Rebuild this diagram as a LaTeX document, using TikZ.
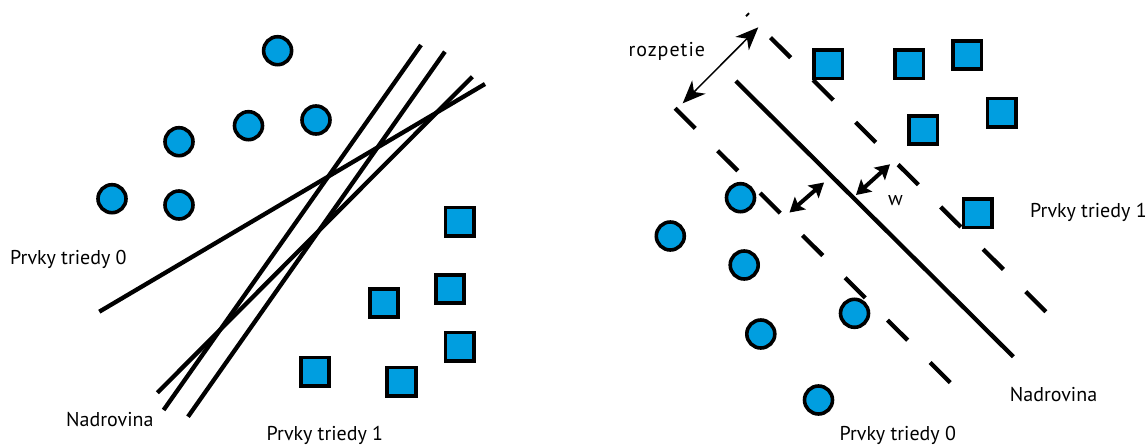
\documentclass[tikz,border=0pt]{standalone}
\usepackage{fontspec}
\setmainfont{PT Sans}
\usetikzlibrary{calc}
\definecolor{dotblue}{RGB}{0,158,224}
% #1 tip, #2 other end, #3 head length, #4 half width, #5 distance of inset point
\newcommand\myArrowHead[5]{%
  \coordinate (hdbase) at ($(#1)!#3!(#2)$);
  \fill (#1) -- ($(hdbase)!#4!90:(#1)$) -- ($(#1)!#5!(#2)$) -- ($(hdbase)!#4!-90:(#1)$) -- cycle;}
\begin{document}
\begin{tikzpicture}[x=1pt,y=-1pt,
  pt0/.style={circle,draw,line width=3.6pt,fill=dotblue,minimum size=28pt,inner sep=0pt},
  pt1/.style={rectangle,draw,line width=3.6pt,fill=dotblue,minimum size=28.5pt,inner sep=0pt},
  hyper/.style={line width=4.3pt},
  marginline/.style={line width=4.3pt,dash pattern=on 28.5pt off 31.5pt},
  lbl/.style={anchor=base west,inner sep=0pt,font=\fontsize{20pt}{22pt}\selectfont},
  thinshaft/.style={line width=1.5pt},
  wshaft/.style={line width=4pt}]
\useasboundingbox (0,0) rectangle (1148,447);

% ---------- left panel ----------
\coordinate (la1) at (99.3,311.7);  \coordinate (la2) at (485,84);
\coordinate (lb1) at (421,45);      \coordinate (lb2) at (163.6,410);
\coordinate (lc1) at (444.9,51.7);  \coordinate (lc2) at (188,416.7);
\coordinate (ld1) at (472.4,76.7);  \coordinate (ld2) at (157.4,392.7);
\draw[hyper] (la1) -- (la2);
\draw[hyper] (lb1) -- (lb2);
\draw[hyper] (lc1) -- (lc2);
\draw[hyper] (ld1) -- (ld2);

\node[pt0] (lc01) at (277.6,50.7) {};
\node[pt0] (lc02) at (179,141.7) {};
\node[pt0] (lc03) at (248.5,125.7) {};
\node[pt0] (lc04) at (316,120) {};
\node[pt0] (lc05) at (112,198.7) {};
\node[pt0] (lc06) at (179,205) {};

\node[pt1] (ls01) at (459.6,221.7) {};
\node[pt1] (ls02) at (450,289) {};
\node[pt1] (ls03) at (384,303) {};
\node[pt1] (ls04) at (459.6,346.7) {};
\node[pt1] (ls05) at (315,371.7) {};
\node[pt1] (ls06) at (401.5,381.7) {};

\node[lbl] (lt0) at (10,264.3) {Prvky triedy 0};
\node[lbl] (ltn) at (66,426.5) {Nadrovina};
\node[lbl] (lt1) at (266.5,440.5) {Prvky triedy 1};

% ---------- right panel ----------
\coordinate (ru1) at (746.8,14);    \coordinate (ru2) at (1047.5,313.3);
\coordinate (rs1) at (735.8,81);    \coordinate (rs2) at (1013.3,356.7);
\coordinate (rl1) at (675.1,108.3); \coordinate (rl2) at (951.9,384.3);
\draw[marginline,dash phase=26.5pt] (ru1) -- (ru2);
\draw[hyper] (rs1) -- (rs2);
\draw[marginline] (rl1) -- (rl2);

\node[pt1] (rs01) at (828.4,64.3) {};
\node[pt1] (rs02) at (909.3,64.3) {};
\node[pt1] (rs03) at (967.4,55) {};
\node[pt1] (rs04) at (1001.6,112.7) {};
\node[pt1] (rs05) at (923.3,130) {};
\node[pt1] (rs06) at (977.7,213.3) {};

\node[pt0] (rc01) at (740.5,197.7) {};
\node[pt0] (rc02) at (670.3,236) {};
\node[pt0] (rc03) at (744.2,265) {};
\node[pt0] (rc04) at (854.5,313.3) {};
\node[pt0] (rc05) at (760.8,334) {};
\node[pt0] (rc06) at (818.5,400) {};

% rozpetie double arrow
\coordinate (ra1) at (758.3,27.3);  \coordinate (ra2) at (682.7,103.3);
\draw[thinshaft] ($(ra1)!14pt!(ra2)$) -- ($(ra2)!14pt!(ra1)$);
\myArrowHead{ra1}{ra2}{23pt}{9.5pt}{16pt}
\myArrowHead{ra2}{ra1}{23pt}{9.5pt}{16pt}

% w double arrows
\coordinate (wa1) at (824,182.5);   \coordinate (wa2) at (789.5,212.5);
\draw[wshaft] ($(wa1)!10pt!(wa2)$) -- ($(wa2)!10pt!(wa1)$);
\myArrowHead{wa1}{wa2}{14.5pt}{8.5pt}{11.5pt}
\myArrowHead{wa2}{wa1}{14.5pt}{8.5pt}{11.5pt}
\coordinate (wb1) at (890,164.3);   \coordinate (wb2) at (856,195);
\draw[wshaft] ($(wb1)!10pt!(wb2)$) -- ($(wb2)!10pt!(wb1)$);
\myArrowHead{wb1}{wb2}{14.5pt}{8.5pt}{11.5pt}
\myArrowHead{wb2}{wb1}{14.5pt}{8.5pt}{11.5pt}

\node[lbl,font=\fontsize{20pt}{22pt}\selectfont\addfontfeature{LetterSpace=5}] (rroz) at (628.4,56) {rozpetie};
\node[lbl] (rw) at (888,205) {w};
\node[lbl] (rt1) at (1030,217) {Prvky triedy 1};
\node[lbl] (rtn) at (1009.7,401.7) {Nadrovina};
\node[lbl] (rt0) at (839.4,440) {Prvky triedy 0};
\end{tikzpicture}
\end{document}
